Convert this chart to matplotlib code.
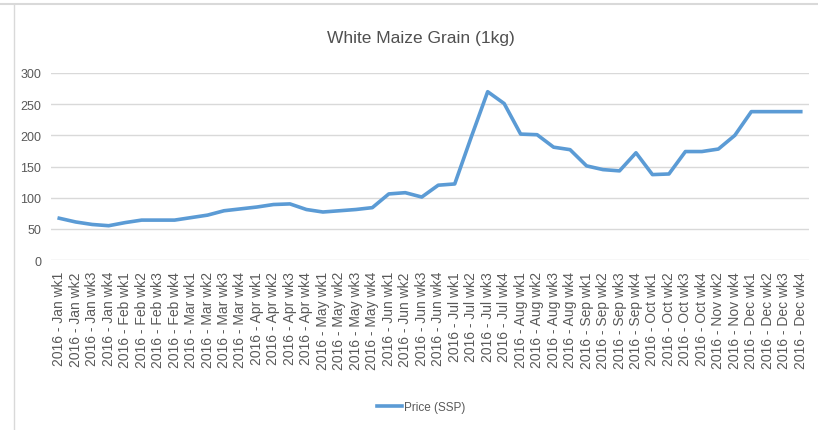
import matplotlib
matplotlib.use('Agg')
import matplotlib.pyplot as plt
from matplotlib.lines import Line2D

# weekly labels (Nov wk1 / wk3 missing in source)
weeks = ['Jan wk1', 'Jan wk2', 'Jan wk3', 'Jan wk4',
         'Feb wk1', 'Feb wk2', 'Feb wk3', 'Feb wk4',
         'Mar wk1', 'Mar wk2', 'Mar wk3', 'Mar wk4',
         'Apr wk1', 'Apr wk2', 'Apr wk3', 'Apr wk4',
         'May wk1', 'May wk2', 'May wk3', 'May wk4',
         'Jun wk1', 'Jun wk2', 'Jun wk3', 'Jun wk4',
         'Jul wk1', 'Jul wk2', 'Jul wk3', 'Jul wk4',
         'Aug wk1', 'Aug wk2', 'Aug wk3', 'Aug wk4',
         'Sep wk1', 'Sep wk2', 'Sep wk3', 'Sep wk4',
         'Oct wk1', 'Oct wk2', 'Oct wk3', 'Oct wk4',
         'Nov wk2', 'Nov wk4',
         'Dec wk1', 'Dec wk2', 'Dec wk3', 'Dec wk4']
labels = ['2016 - ' + w for w in weeks]

price = [67, 61, 57, 55,
         60, 64, 64, 64,
         68, 72, 79, 82,
         85, 89, 90, 81,
         77, 79, 81, 84,
         106, 108, 101, 120,
         122, 197, 270, 251,
         202, 201, 181, 177,
         151, 145, 143, 172,
         137, 138, 174, 174,
         178, 200,
         238, 238, 238, 238]

yticks = [0, 50, 100, 150, 200, 250, 300]

line_col = '#5b9bd5'
grid_col = '#d9d9d9'
txt_col = '#595959'
font = 'Liberation Sans'

W, H = 818, 431
fig = plt.figure(figsize=(W / 100, H / 100), dpi=100)
ax = fig.add_axes([51 / W, 1 - 261 / H, (809 - 51) / W, (261 - 74) / H])

x = list(range(len(price)))
ax.plot(x, price, color=line_col, lw=2.6, solid_joinstyle='round')

ax.set_xlim(-0.5, len(price) - 0.5)
ax.set_ylim(0, 300)
ax.set_yticks(yticks)
ax.set_yticklabels([str(v) for v in yticks], family=font, fontsize=9, color=txt_col)
ax.set_xticks(x)
ax.set_xticklabels(labels, rotation=90, fontsize=10, color=txt_col, family=font)
ax.tick_params(axis='both', length=0)
ax.tick_params(axis='y', pad=7)
ax.tick_params(axis='x', pad=8)
ax.grid(axis='y', color=grid_col, lw=1)
ax.set_axisbelow(True)
for s in ax.spines.values():
    s.set_visible(False)

fig.text(421 / W, 1 - 38 / H, 'White Maize Grain (1kg)', ha='center', va='center',
         fontsize=12.5, color='#505050', family=font)

# chart frame
fig.add_artist(Line2D([0, 1], [1 - 5 / H, 1 - 5 / H], color='#d9d9d9', lw=1.5))
fig.add_artist(Line2D([14 / W, 14 / W], [0, 1 - 5 / H], color='#d9d9d9', lw=1))

leg_handle = Line2D([], [], color=line_col, lw=2.6)
fig.legend(handles=[leg_handle], labels=['Price (SSP)'], loc='center',
           bbox_to_anchor=(421 / W, 1 - 408 / H), frameon=False,
           prop={'family': font, 'size': 8.5}, labelcolor=txt_col,
           handlelength=2.1, handletextpad=0.2)

fig.savefig('out.png', dpi=100)
